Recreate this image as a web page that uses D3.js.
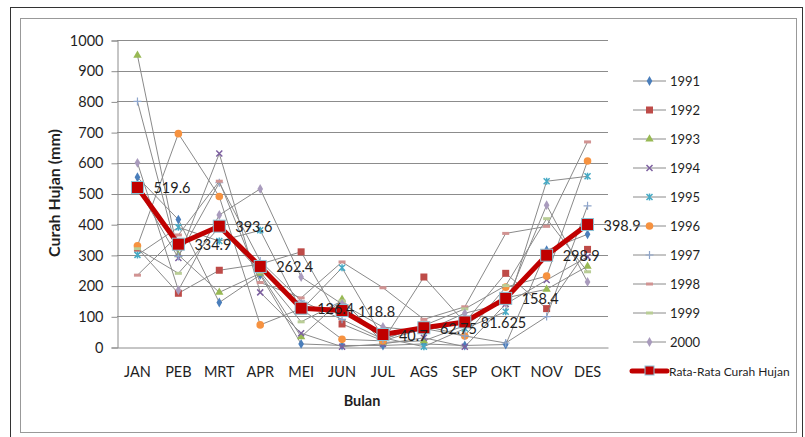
<!DOCTYPE html>
<html>
<head>
<meta charset="utf-8">
<script src="https://cdn.jsdelivr.net/npm/d3@7"></script>
<style>
  body { margin: 0; background: #fff; }
  svg { display: block; font-family: Lato, "Open Sans", sans-serif; }
</style>
</head>
<body>
<svg id="chart"></svg>
<script>
const months = ["JAN", "PEB", "MRT", "APR", "MEI", "JUN", "JUL", "AGS", "SEP", "OKT", "NOV", "DES"];
const years = ["1991", "1992", "1993", "1994", "1995", "1996", "1997", "1998", "1999", "2000"];

// monthly rainfall per year (mm)
const r1991 = [553, 415, 145, 235, 10, 5, 5, 10, 5, 8, 315, 367];
const r1992 = [322, 175, 250, 270, 310, 75, 20, 228, 80, 240, 125, 318];
const r1993 = [950, 300, 178, 240, 33, 155, 15, 20, 70, 160, 188, 263];
const r1994 = [520, 290, 630, 178, 45, 1, 10, 30, 1, 140, 218, 294];
const r1995 = [300, 390, 345, 380, 120, 258, 30, 1, 60, 115, 540, 556];
const r1996 = [330, 695, 490, 72, 125, 25, 20, 60, 36, 195, 231, 606];
const r1997 = [800, 295, 535, 280, 150, 90, 25, 70, 36, 13, 99, 460];
const r1998 = [234, 365, 540, 210, 160, 277, 193, 90, 131, 370, 393, 668];
const r1999 = [320, 240, 390, 244, 82, 150, 25, 70, 124, 200, 418, 245];
const r2000 = [600, 185, 430, 515, 228, 140, 65, 50, 110, 143, 462, 212];
const average = [519.6, 334.9, 393.6, 262.4, 126.4, 118.8, 40.7, 62.75, 81.625, 158.4, 298.9, 398.9];
const yTicks = [0, 100, 200, 300, 400, 500, 600, 700, 800, 900, 1000];

const seriesValues = [r1991, r1992, r1993, r1994, r1995, r1996, r1997, r1998, r1999, r2000];
const colors = ["#4A7EBB", "#BE4B48", "#98B954", "#7D60A0", "#46AAC5", "#F69240", "#8EA5CB", "#D19392", "#B9CD96", "#A99BBD"];
const shapes = ["diamond", "square", "triangle", "cross", "star", "circle", "plus", "dash", "dash", "diamond"];

const W = 805, H = 437;
const svg = d3.select("#chart").attr("width", W).attr("height", H);

// frames
svg.append("rect").attr("x", 10.5).attr("y", 7.5).attr("width", 792).attr("height", 440)
  .attr("fill", "none").attr("stroke", "#333").attr("stroke-width", 1);
svg.append("rect").attr("x", 20.5).attr("y", 18.5).attr("width", 776).attr("height", 414)
  .attr("fill", "none").attr("stroke", "#999").attr("stroke-width", 1);

const x = d3.scaleBand().domain(months).range([117, 608]);
const cx = (m) => x(m) + x.bandwidth() / 2;
const y = d3.scaleLinear().domain([0, 1000]).range([347, 40]);

// gridlines
svg.append("g")
  .selectAll("line")
  .data(yTicks.filter((t) => t > 0))
  .join("line")
  .attr("x1", 117).attr("x2", 608)
  .attr("y1", (d) => Math.round(y(d)) + 0.5).attr("y2", (d) => Math.round(y(d)) + 0.5)
  .attr("stroke", "#8c8c8c").attr("stroke-width", 1);

// y axis
const yAxis = svg.append("g")
  .attr("transform", "translate(117.5,0.5)")
  .call(d3.axisLeft(y).tickValues(yTicks).tickFormat(d3.format("d")).tickSize(6).tickPadding(8));
yAxis.select(".domain").attr("stroke", "#8c8c8c");
yAxis.selectAll(".tick line").attr("stroke", "#8c8c8c");
yAxis.selectAll("text").attr("font-size", 14.5).attr("fill", "#1f1f1f")
  .attr("font-family", "Lato, sans-serif");

// x axis
const xAxis = svg.append("g")
  .attr("transform", `translate(0,${Math.round(y(0)) + 0.5})`)
  .call(d3.axisBottom(x).tickSize(0).tickPadding(19));
xAxis.select(".domain").attr("stroke", "#8c8c8c");
xAxis.selectAll("text").attr("font-size", 14.5).attr("fill", "#1f1f1f")
  .attr("font-family", "Lato, sans-serif");

// axis titles
svg.append("text")
  .attr("transform", "translate(60,193) rotate(-90)")
  .attr("text-anchor", "middle")
  .attr("font-size", 16).attr("font-weight", "bold").attr("fill", "#1f1f1f")
  .text("Curah Hujan (mm)");
svg.append("text")
  .attr("x", 362).attr("y", 406)
  .attr("text-anchor", "middle")
  .attr("font-size", 14.5).attr("font-weight", "bold").attr("fill", "#1f1f1f")
  .text("Bulan");

function drawMarker(sel, shape, color) {
  if (shape === "diamond") {
    sel.append("path").attr("d", d3.symbol(d3.symbolDiamond, 28)).attr("fill", color);
  } else if (shape === "square") {
    sel.append("rect").attr("x", -3.5).attr("y", -3.5).attr("width", 7).attr("height", 7).attr("fill", color);
  } else if (shape === "triangle") {
    sel.append("path").attr("d", d3.symbol(d3.symbolTriangle, 30)).attr("fill", color);
  } else if (shape === "cross") {
    sel.append("path").attr("d", "M-3,-3L3,3M-3,3L3,-3").attr("stroke", color).attr("stroke-width", 1.5);
  } else if (shape === "star") {
    sel.append("path").attr("d", "M-3,-3L3,3M-3,3L3,-3M0,-3.5L0,3.5")
      .attr("stroke", color).attr("stroke-width", 1.5);
  } else if (shape === "circle") {
    sel.append("circle").attr("r", 3.8).attr("fill", color);
  } else if (shape === "plus") {
    sel.append("path").attr("d", "M-4,0L4,0M0,-4L0,4").attr("stroke", color).attr("stroke-width", 1.2);
  } else if (shape === "dash") {
    sel.append("rect").attr("x", -3.5).attr("y", -1.5).attr("width", 7).attr("height", 3).attr("fill", color);
  }
}

const line = d3.line().x((d, i) => cx(months[i])).y((d) => y(d));

// yearly series
seriesValues.forEach((vals, k) => {
  const g = svg.append("g").attr("class", "series");
  g.append("path").datum(vals).attr("d", line)
    .attr("fill", "none").attr("stroke", "#8a8a8a").attr("stroke-width", 1);
  g.selectAll(".pt")
    .data(vals)
    .join("g")
    .attr("class", "pt")
    .attr("transform", (d, i) => `translate(${cx(months[i])},${y(d)})`)
    .each(function () { drawMarker(d3.select(this), shapes[k], colors[k]); });
});

// average series
const avgG = svg.append("g");
avgG.append("path").datum(average).attr("d", line)
  .attr("fill", "none").attr("stroke", "#C00000").attr("stroke-width", 5)
  .attr("stroke-linejoin", "round");
avgG.selectAll("rect")
  .data(average)
  .join("rect")
  .attr("x", (d, i) => cx(months[i]) - 6)
  .attr("y", (d) => y(d) - 6)
  .attr("width", 12).attr("height", 12)
  .attr("fill", "#C00000").attr("stroke", "#8DC3D6").attr("stroke-width", 1);
avgG.selectAll("text")
  .data(average)
  .join("text")
  .attr("x", (d, i) => cx(months[i]) + 16)
  .attr("y", (d) => y(d) + 6)
  .attr("font-size", 14.5).attr("fill", "#1f1f1f")
  .text((d) => d);

// legend
const legend = svg.append("g");
years.forEach((yr, k) => {
  const ly = 81 + k * 29;
  legend.append("line").attr("x1", 633).attr("x2", 666).attr("y1", ly).attr("y2", ly)
    .attr("stroke", "#8a8a8a").attr("stroke-width", 1);
  drawMarker(legend.append("g").attr("transform", `translate(649.5,${ly})`), shapes[k], colors[k]);
  legend.append("text").attr("x", 670).attr("y", ly + 5)
    .attr("font-size", 13).attr("fill", "#1f1f1f").text(yr);
});
const avgY = 81 + 10 * 29;
legend.append("line").attr("x1", 632).attr("x2", 667).attr("y1", avgY).attr("y2", avgY)
  .attr("stroke", "#C00000").attr("stroke-width", 5).attr("stroke-linecap", "round");
legend.append("rect").attr("x", 645).attr("y", avgY - 5).attr("width", 9).attr("height", 9)
  .attr("fill", "#C00000").attr("stroke", "#8DC3D6").attr("stroke-width", 1);
legend.append("text").attr("x", 669).attr("y", avgY + 5)
  .attr("font-size", 12).attr("fill", "#1f1f1f").text("Rata-Rata Curah Hujan");
</script>
</body>
</html>
